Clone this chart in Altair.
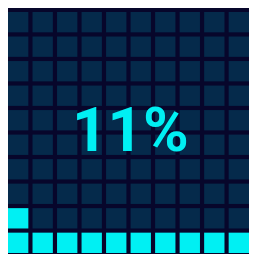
import altair as alt
import pandas as pd

# data
percent_value = 11
n_cols = 10
n_rows = 10
label_text = ["11%"]

rows = []
for r in range(n_rows):          # r = 0 is the bottom row
    for c in range(n_cols):
        idx = r * n_cols + c
        rows.append({"col": c, "row": r, "filled": "yes" if idx < percent_value else "no"})
df = pd.DataFrame(rows)

BG = "#07062b"
EMPTY = "#052a4b"
FILL = "#00f0f3"

W = 249
H = 249

cells = alt.Chart(df).mark_rect().encode(
    x=alt.X("col:O", axis=None,
            scale=alt.Scale(paddingInner=0.17, paddingOuter=0)),
    y=alt.Y("row:O", axis=None, sort="descending",
            scale=alt.Scale(paddingInner=0.17, paddingOuter=0)),
    color=alt.Color("filled:N", legend=None,
                    scale=alt.Scale(domain=["no", "yes"], range=[EMPTY, FILL])),
)

label = alt.Chart(pd.DataFrame({"t": label_text})).mark_text(
    font="Roboto", fontWeight="bold", fontSize=64,
    color=FILL, baseline="alphabetic", align="center",
).encode(
    text="t:N",
    x=alt.value(W / 2 + 2),
    y=alt.value(144),
)

chart = alt.layer(cells, label).properties(
    width=W, height=H, padding=0, background=BG,
    autosize=alt.AutoSizeParams(type="none"),
).configure_view(strokeWidth=0, fill=BG)

chart.save("out.html", embed_options={"renderer": "svg", "actions": False})
